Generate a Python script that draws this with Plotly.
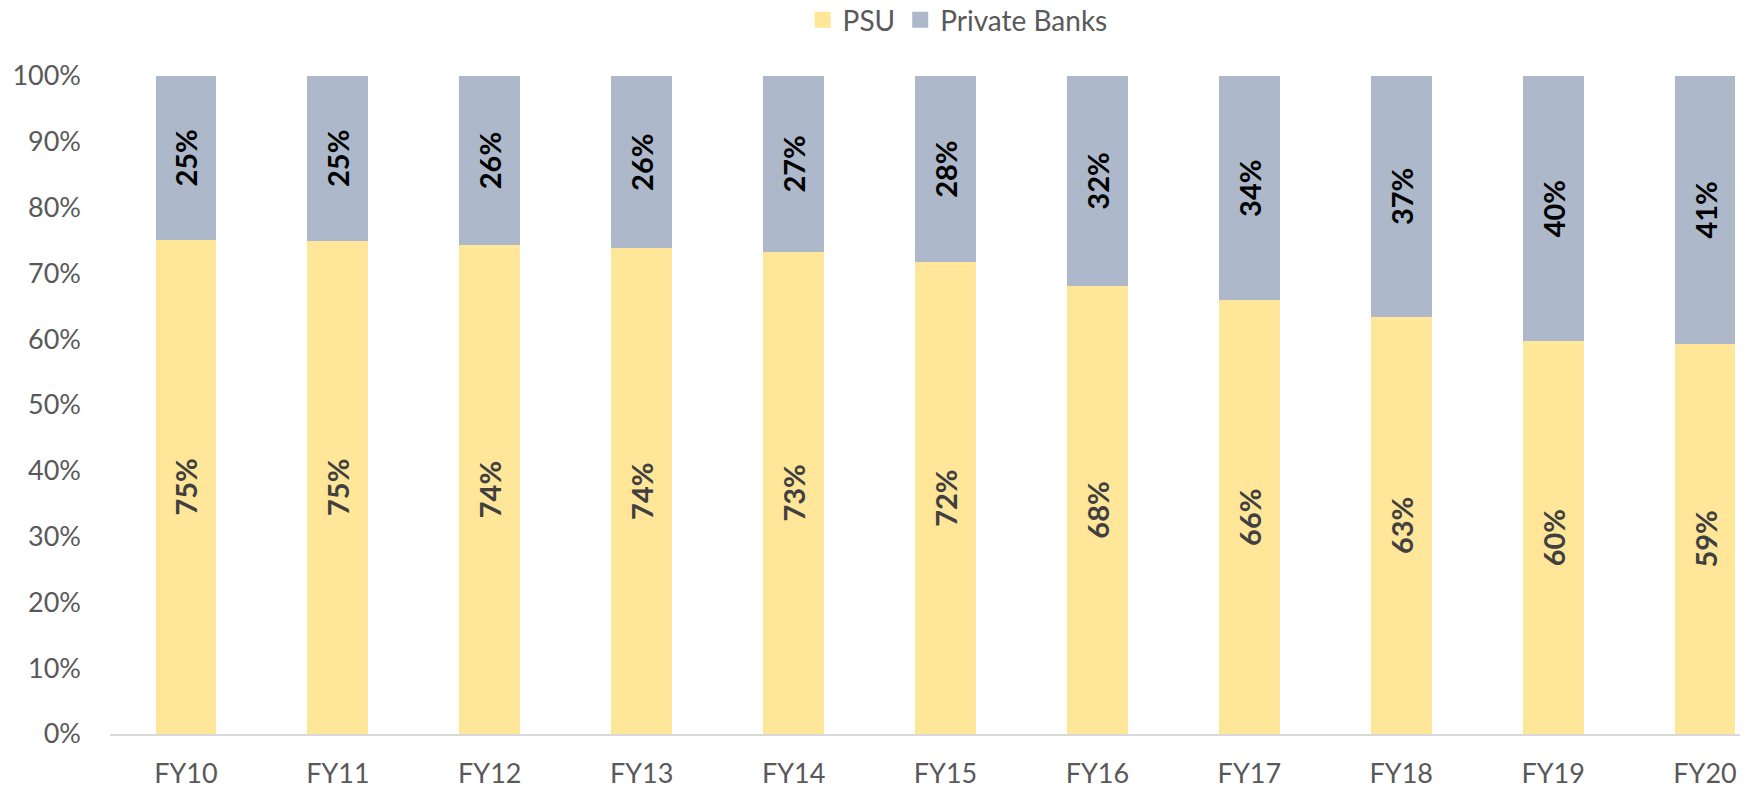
import plotly.graph_objects as go

categories = ["FY10", "FY11", "FY12", "FY13", "FY14", "FY15", "FY16", "FY17", "FY18", "FY19", "FY20"]
psu = [75.1, 75.0, 74.3, 73.8, 73.3, 71.7, 68.1, 65.9, 63.4, 59.7, 59.3]
private_banks = [24.9, 25.0, 25.7, 26.2, 26.7, 28.3, 31.9, 34.1, 36.6, 40.3, 40.7]
y_ticks = [0, 10, 20, 30, 40, 50, 60, 70, 80, 90, 100]
series_names = ["PSU", "Private Banks"]
series_colors = ["#FFE699", "#ADB9CA"]

FONT = "Lato"
GRAY = "#595959"

fig = go.Figure()
for name, vals, color, tcolor in [
    (series_names[0], psu, series_colors[0], "#404040"),
    (series_names[1], private_banks, series_colors[1], "#000000"),
]:
    fig.add_trace(go.Bar(
        name=name, x=categories, y=vals, showlegend=False, legendgroup=name,
        marker=dict(color=color, line=dict(width=0)),
        texttemplate="<b>%{y:.0f}%</b>", textposition="inside", insidetextanchor="middle",
        textangle=-90, constraintext="none",
        textfont=dict(family=FONT, size=29, color=tcolor),
    ))
# legend entries with larger square swatches
for name, color in zip(series_names, series_colors):
    fig.add_trace(go.Scatter(
        name=name, x=[None], y=[None], mode="markers", legendgroup=name,
        marker=dict(symbol="square", size=17, color=color),
        showlegend=True,
    ))

fig.update_layout(
    barmode="stack",
    bargap=0.6,
    width=1762, height=789,
    margin=dict(l=110, r=22, t=76, b=55, autoexpand=False),
    paper_bgcolor="white", plot_bgcolor="white",
    font=dict(family=FONT, color=GRAY, size=26),
    legend=dict(orientation="h", x=0.52, xanchor="center", y=1.085, yanchor="middle",
                font=dict(family=FONT, size=28, color=GRAY), itemwidth=30,
                traceorder="normal"),
    showlegend=True,
)
fig.update_xaxes(
    range=[-0.5, 10.23],
    showline=True, linecolor="#D9D9D9", linewidth=2,
    showgrid=False, ticks="", ticklabelstandoff=15,
    tickfont=dict(family=FONT, size=27, color=GRAY),
)
fig.update_yaxes(
    range=[0, 100],
    tickvals=y_ticks, ticktext=[f"{v}%" for v in y_ticks],
    showgrid=False, zeroline=False, showline=False, ticks="",
    ticklabelstandoff=28,
    tickfont=dict(family=FONT, size=27, color=GRAY),
)

fig.write_html("out.html", config={"displayModeBar": False},
               post_script="document.body.style.margin='0';")
